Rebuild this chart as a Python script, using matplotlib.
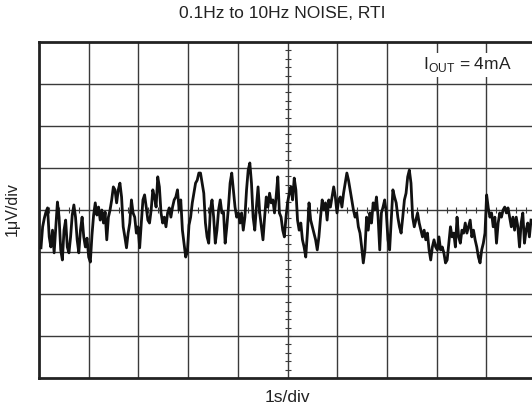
import numpy as np
import matplotlib
matplotlib.use('Agg')
import matplotlib.pyplot as plt

plt.rcParams['font.family'] = ['Liberation Sans', 'DejaVu Sans']
plt.rcParams['mathtext.fontset'] = 'custom'
plt.rcParams['mathtext.rm'] = 'Liberation Sans'

title = '0.1Hz to 10Hz NOISE, RTI'
xlabel = '1s/div'
ylabel = '1\u03bcV/div'
note = r'I$_{\mathrm{OUT}}$ = 4mA'

# trace, uV (1 div = 1 uV), evenly spaced in time
t_start = 0.04   # div
t_end = 9.90     # div
noise_uv = [
    # 0.0 - 1.6 div
    -0.90, -0.40, -0.20, -0.05, 0.05, -0.64, -0.88, -0.48, -1.02, -0.40,
    0.19, -0.17, -0.95, -1.19, -0.48, -0.24, -0.88, -1.02, -0.64, -0.12,
    0.12, -0.17, -0.71, -1.02, -0.48, -0.17, -0.64, -0.88, -0.67, -1.12,
    -1.24, -0.60, -0.12, 0.17, -0.12, 0.07, -0.24, 0.00, -0.31, -0.05,
    -0.71, -0.17, 0.00, 0.24, 0.55, 0.48, 0.17,
    # 1.6 - 3.25 div
    0.48, 0.64, 0.31, -0.40, -0.64, -0.90, -0.55, -0.31, 0.24, -0.07,
    -0.17, -0.55, -0.40, -0.90, -0.31, 0.24, 0.36, 0.07, -0.24, -0.31,
    0.00, 0.48, 0.31, 0.07, 0.79, 0.55, -0.07, -0.31, -0.17, -0.40,
    -0.07, 0.05, -0.17, 0.07, 0.24, 0.31, 0.48, 0.00, 0.24, -0.48,
    -0.79, -1.12, -1.00, -0.36, -0.17, 0.17, 0.40, 0.64, 0.71, 0.88,
    # 3.25 - 4.9 div
    0.88, 0.64, 0.40, -0.31, -0.64, -0.79, 0.00, 0.24, -0.17, -0.79,
    -0.48, 0.00, 0.24, -0.07, -0.05, -0.79, -0.40, 0.07, 0.64, 0.88,
    0.48, 0.07, -0.17, -0.07, -0.31, -0.07, -0.48, -0.17, 0.48, 0.95,
    1.12, 0.64, -0.17, -0.48, 0.07, 0.55, -0.07, -0.40, -0.71, -0.17,
    0.31, 0.07, 0.40, 0.17, 0.24, -0.07, 0.31, 0.79, -0.07, -0.17,
    # 4.9 - 6.55 div
    -0.48, -0.64, -0.17, 0.19, 0.40, 0.55, 0.24, 0.76, 0.48, -0.24,
    -0.48, -0.31, -0.71, -0.88, -1.12, -0.55, 0.17, -0.24, -0.40, -0.55,
    -0.71, -0.95, -0.64, -0.17, 0.24, 0.00, 0.17, -0.24, 0.24, 0.07,
    0.31, 0.55, 0.31, -0.07, 0.24, 0.31, 0.07, 0.40, 0.64, 0.88,
    0.71, 0.48, 0.24, 0.00, -0.17, -0.07, -0.40, -0.55, -0.88, -1.26,
    # 6.55 - 8.2 div
    -0.95, -0.17, -0.48, -0.07, -0.31, 0.17, 0.00, 0.31, -0.17, -0.95,
    -0.07, 0.07, 0.24, -0.07, -0.71, -0.95, -0.24, 0.48, 0.31, 0.17,
    -0.17, -0.40, -0.55, -0.17, 0.24, 0.40, 0.79, 0.95, 0.64, -0.17,
    -0.40, -0.24, -0.07, -0.31, -0.48, -0.64, -0.48, -0.71, -0.55, -0.95,
    -1.19, -0.88, -0.71, -0.88, -0.95, -0.64, -0.95, -0.88, -1.02, -1.26,
    # 8.2 - 9.9 div
    -1.19, -0.79, -0.40, -0.64, -0.55, -0.88, -0.17, -0.64, -0.79, -0.48,
    -0.55, -0.31, -0.55, -0.40, -0.24, -0.64, -0.48, -0.71, -0.88, -1.12,
    -1.26, -0.95, -0.79, -0.55, 0.36, 0.05, -0.17, -0.07, -0.40, -0.17,
    -0.79, -0.31, -0.07, -0.17, 0.00, 0.07, -0.07, 0.05, -0.17, -0.40,
    -0.17, -0.48, -0.17, -0.40, -0.88, -0.31, -0.07, -0.79, -0.48, -0.31,
    -0.64, -0.24,
]

t = np.linspace(t_start, t_end, len(noise_uv))

fig = plt.figure(figsize=(5.32, 4.12), dpi=100)
ax = fig.add_axes([39 / 532, 34 / 412, 497 / 532, 336 / 412])
ax.set_xlim(0, 10)
ax.set_ylim(-4, 4)

# graticule
for gx in range(1, 10):
    ax.axvline(gx, color='#3a3a3a', lw=1.0, zorder=1)
for gy in range(-3, 4):
    ax.axhline(gy, color='#3a3a3a', lw=1.0, zorder=1)

# small ticks along the centre lines
minor = np.arange(-4, 4.01, 0.2)
ax.plot(np.full_like(minor, 5), minor, ls='none', marker='_', ms=5,
        mew=0.8, color='#3a3a3a', zorder=1)
minor_x = np.arange(0, 10.01, 0.2)
ax.plot(minor_x, np.zeros_like(minor_x), ls='none', marker='|', ms=5,
        mew=0.8, color='#3a3a3a', zorder=1)

ax.plot(t, noise_uv, color='#111111', lw=2.0, zorder=3)

ax.set_xticks([])
ax.set_yticks([])
for sp in ax.spines.values():
    sp.set_linewidth(2.0)
    sp.set_color('#222222')

fig.text(467 / 532, 1 - 65 / 412, note, ha='center', va='center',
         fontsize=12.5, color='#222222', zorder=4,
         bbox=dict(facecolor='white', edgecolor='none', pad=1.5))

fig.text(282 / 532, 1 - 14 / 412, title, ha='center', va='center',
         fontsize=12.5, color='#222222')
fig.text(287 / 532, 1 - 397 / 412, xlabel, ha='center', va='center',
         fontsize=12.5, color='#222222')
fig.text(12 / 532, 1 - 209 / 412, ylabel, ha='center', va='center',
         rotation=90, fontsize=11.5, color='#222222')

fig.savefig('out.png', dpi=100)
